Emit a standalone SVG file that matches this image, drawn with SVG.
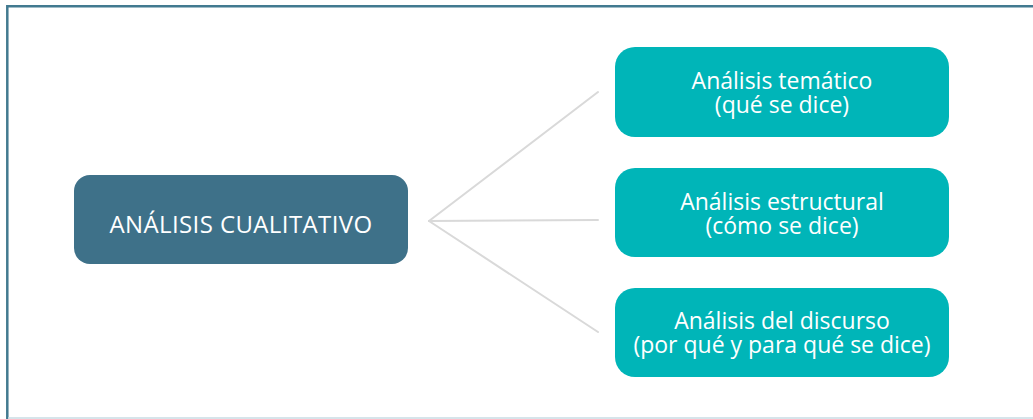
<svg xmlns="http://www.w3.org/2000/svg" width="1033" height="419" viewBox="0 0 1033 419">
  <style>
    .frame { fill: none; stroke: #427a90; stroke-width: 2.5; }
    .main { fill: #3e7189; }
    .sub { fill: #00b5b8; }
    .lbl { font-family: "Open Sans", "Liberation Sans", sans-serif; font-size: 23px; fill: #ffffff; text-anchor: middle; }
    .conn { stroke: #d9d9d9; stroke-width: 2; fill: none; stroke-linecap: round; }
  </style>
  <rect x="0" y="0" width="1033" height="419" fill="#ffffff"/>
  <g id="frame">
    <path class="frame" d="M7.3 419 V6.3 H1033"/>
    <line x1="8" y1="418" x2="1033" y2="418" stroke="#c9dbe3" stroke-width="1.5"/>
  </g>
  <g id="connectors">
    <line class="conn" x1="429" y1="221" x2="598" y2="92"/>
    <line class="conn" x1="429" y1="221" x2="598" y2="220"/>
    <line class="conn" x1="429" y1="221" x2="598" y2="332"/>
  </g>
  <g id="node-main">
    <rect class="main" x="74" y="175" width="334" height="89" rx="16"/>
    <text class="lbl" x="241" y="233" style="font-size:24px; letter-spacing:0.4px">ANÁLISIS CUALITATIVO</text>
  </g>
  <g id="node-tematico">
    <rect class="sub" x="615" y="47" width="334" height="90" rx="20"/>
    <text class="lbl" x="782" y="89">Análisis temático<tspan x="782" dy="24">(qué se dice)</tspan></text>
  </g>
  <g id="node-estructural">
    <rect class="sub" x="615" y="168" width="334" height="89" rx="20"/>
    <text class="lbl" x="782" y="210">Análisis estructural<tspan x="782" dy="24">(cómo se dice)</tspan></text>
  </g>
  <g id="node-discurso">
    <rect class="sub" x="615" y="288" width="334" height="89" rx="20"/>
    <text class="lbl" x="782" y="329">Análisis del discurso<tspan x="782" dy="24">(por qué y para qué se dice)</tspan></text>
  </g>
</svg>
